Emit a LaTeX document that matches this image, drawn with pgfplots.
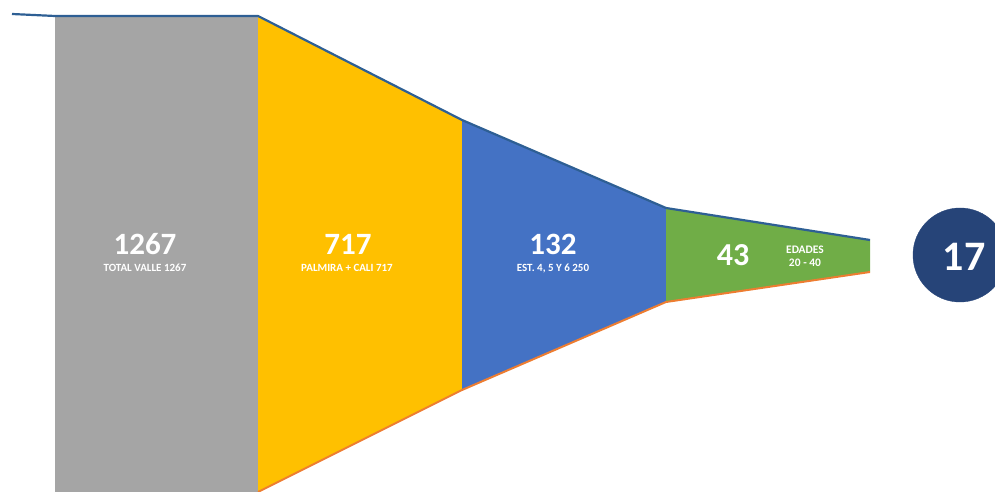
\documentclass[border=0pt]{standalone}
\usepackage{pgfplots}
\pgfplotsset{compat=1.18}
\usepackage{fontspec}
\setmainfont{Carlito}
\definecolor{cgray}{HTML}{A5A5A5}
\definecolor{cyel}{HTML}{FFC000}
\definecolor{cblue}{HTML}{4472C4}
\definecolor{cgreen}{HTML}{70AD47}
\definecolor{cnavy}{HTML}{264478}
\definecolor{ctop}{HTML}{2E5F94}
\definecolor{cbot}{HTML}{ED7D31}
\tikzset{lbl/.style={inner sep=0pt, text=white, font=\bfseries\fontsize{#1}{#1}\selectfont}}
\begin{document}
\begin{tikzpicture}
\begin{axis}[
  scale only axis, width=995pt, height=492pt,
  xmin=0, xmax=995, ymin=0, ymax=492,
  hide axis, clip=true, clip marker paths=true,
]
\addplot[fill=cgray, draw=none] coordinates {(55,0) (258,0) (258,475) (55,475)} -- cycle;
\addplot[fill=cyel, draw=none] coordinates {(258,0) (462,102) (462,372) (258,475)} -- cycle;
\addplot[fill=cblue, draw=none] coordinates {(462,102) (666,190) (666,284) (462,372)} -- cycle;
\addplot[fill=cgreen, draw=none] coordinates {(666,190) (870,220) (870,252) (666,284)} -- cycle;
\addplot[ctop, line width=2.2pt] coordinates {(12,478) (55,476) (258,476) (462,372) (666,284) (870,252)};
\addplot[cbot, line width=2pt] coordinates {(258,0) (462,102) (666,190) (870,220)};
\addplot[only marks, mark=*, mark size=47pt, mark options={fill=cnavy, draw=cnavy}] coordinates {(960,237)};
\node[lbl=31] at (axis cs:145,248) {1267};
\node[lbl=11] at (axis cs:145,224) {TOTAL VALLE 1267};
\node[lbl=31] at (axis cs:348,248) {717};
\node[lbl=11] at (axis cs:347,224) {PALMIRA + CALI 717};
\node[lbl=31] at (axis cs:553,248) {132};
\node[lbl=11] at (axis cs:553,224) {EST. 4, 5 Y 6 250};
\node[lbl=32] at (axis cs:733,237) {43};
\node[lbl=11.5] at (axis cs:805,242) {EDADES};
\node[lbl=11.5] at (axis cs:805,229) {20 - 40};
\node[lbl=42] at (axis cs:964,235) {17};
\end{axis}
\pgfresetboundingbox
\useasboundingbox (current axis.south west) rectangle (current axis.north east);
\end{tikzpicture}
\end{document}
